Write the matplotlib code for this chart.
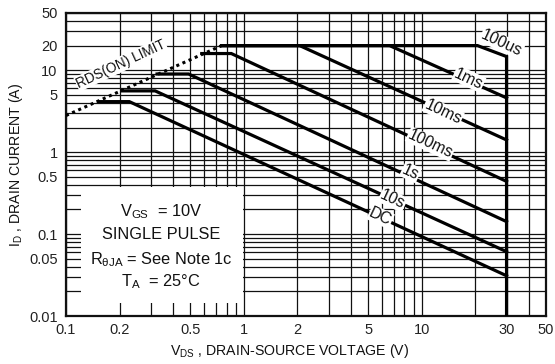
import numpy as np
import matplotlib
matplotlib.use("Agg")
import matplotlib.pyplot as plt
from matplotlib.ticker import LogLocator, FixedLocator, FixedFormatter, NullFormatter
from matplotlib.patches import Rectangle

plt.rcParams['font.family'] = ['Liberation Sans', 'DejaVu Sans']
plt.rcParams['mathtext.fontset'] = 'custom'
plt.rcParams['mathtext.rm'] = 'Liberation Sans'
plt.rcParams['mathtext.it'] = 'Liberation Sans'

# ---- data ----
rds_v = [0.1, 0.75]
rds_i = [2.8, 20]

v_100us = [0.75, 20.6, 30, 30]
i_100us = [20, 20, 14.7, 0.01]
v_1ms = [0.75, 6.6, 30]
i_1ms = [20, 20, 4.6]
v_10ms = [0.75, 2.06, 30]
i_10ms = [20, 20, 1.41]
v_100ms = [0.58, 0.85, 30]
i_100ms = [16, 16, 0.44]
v_1s = [0.325, 0.489, 30]
i_1s = [9, 9, 0.142]
v_10s = [0.206, 0.317, 30]
i_10s = [5.6, 5.6, 0.061]
v_dc = [0.152, 0.227, 30]
i_dc = [4.14, 4.14, 0.031]

curve_names = ["100us", "1ms", "10ms", "100ms", "1s", "10s", "DC"]
label_v = [28.2, 18.4, 13.2, 11.2, 8.67, 6.87, 5.87]
label_i = [21.5, 7.85, 3.1, 1.26, 0.57, 0.263, 0.163]

x_ticks = [0.1, 0.2, 0.5, 1, 2, 5, 10, 30, 50]
x_ticklabels = ["0.1", "0.2", "0.5", "1", "2", "5", "10", "30", "50"]
y_ticks = [0.01, 0.05, 0.1, 0.5, 1, 5, 10, 20, 50]
y_ticklabels = ["0.01", "0.05", "0.1", "0.5", "1", "5", "10", "20", "50"]

fig = plt.figure(figsize=(5.55, 3.64), dpi=100)
ax = fig.add_axes([66/555, 1-316/364, 480/555, 303/364])
ax.set_xscale('log')
ax.set_yscale('log')
ax.set_xlim(0.1, 50)
ax.set_ylim(0.01, 50)

ax.xaxis.set_major_locator(FixedLocator(x_ticks))
ax.xaxis.set_major_formatter(FixedFormatter(x_ticklabels))
ax.yaxis.set_major_locator(FixedLocator(y_ticks))
ax.yaxis.set_major_formatter(FixedFormatter(y_ticklabels))
ax.xaxis.set_minor_locator(LogLocator(base=10, subs=np.arange(1, 10), numticks=50))
ax.yaxis.set_minor_locator(LogLocator(base=10, subs=np.arange(1, 10), numticks=50))
ax.xaxis.set_minor_formatter(NullFormatter())
ax.yaxis.set_minor_formatter(NullFormatter())
ax.tick_params(which='both', length=0, labelsize=10.5, colors='#222222')
ax.tick_params(axis='x', pad=5)
ax.tick_params(axis='y', pad=6)
ax.set_axisbelow(True)
ax.grid(which='both', color='#111111', lw=0.9)
for s in ax.spines.values():
    s.set_linewidth(1.6)
    s.set_color('#111111')

# white box without grid
ax.add_patch(Rectangle((0.121, 0.0145), 0.99 - 0.121, 0.38 - 0.0145,
                       facecolor='white', edgecolor='none', zorder=1))

lw = 2.3
ax.plot(rds_v, rds_i, color='black', lw=2.2, ls=(0, (1, 1.2)), zorder=3)
for v, i in [(v_100us, i_100us), (v_1ms, i_1ms), (v_10ms, i_10ms),
             (v_100ms, i_100ms), (v_1s, i_1s), (v_10s, i_10s), (v_dc, i_dc)]:
    ax.plot(v, i, color='black', lw=lw, zorder=3, solid_joinstyle='miter')

bb = dict(facecolor='white', edgecolor='none', pad=0.5)
for name, lv, li in zip(curve_names, label_v, label_i):
    ax.text(lv, li, name, rotation=-25, ha='center', va='center', fontsize=11.5,
            color='#111111', bbox=bb, zorder=4, rotation_mode='anchor')

ax.text(0.204, 11.9, "RDS(ON) LIMIT", rotation=25, ha='center', va='center',
        fontsize=9.8, color='#111111', bbox=bb, zorder=4, rotation_mode='anchor')

box_x = 0.343
ax.text(box_x, 0.19, r"V$_{\mathregular{GS}}$  = 10V", ha='center', va='center',
        fontsize=11.8, color='#111111', zorder=4)
ax.text(box_x, 0.098, "SINGLE PULSE", ha='center', va='center', fontsize=11.8,
        color='#111111', zorder=4)
ax.text(box_x, 0.049, r"R$_{\mathregular{θJA}}$ = See Note 1c", ha='center', va='center',
        fontsize=11.8, color='#111111', zorder=4)
ax.text(box_x, 0.0265, r"T$_{\mathregular{A}}$  = 25°C", ha='center', va='center',
        fontsize=11.8, color='#111111', zorder=4)

ax.set_xlabel(r"V$_{\mathregular{DS}}$ , DRAIN-SOURCE VOLTAGE (V)", fontsize=10.2, color='#111111')
ax.set_ylabel(r"I$_{\mathregular{D}}$ , DRAIN CURRENT (A)", fontsize=10.2, color='#111111')
ax.xaxis.set_label_coords(0.465, -0.085)
ax.yaxis.set_label_coords(-0.085, 0.5)

fig.savefig("out.png", dpi=100)
